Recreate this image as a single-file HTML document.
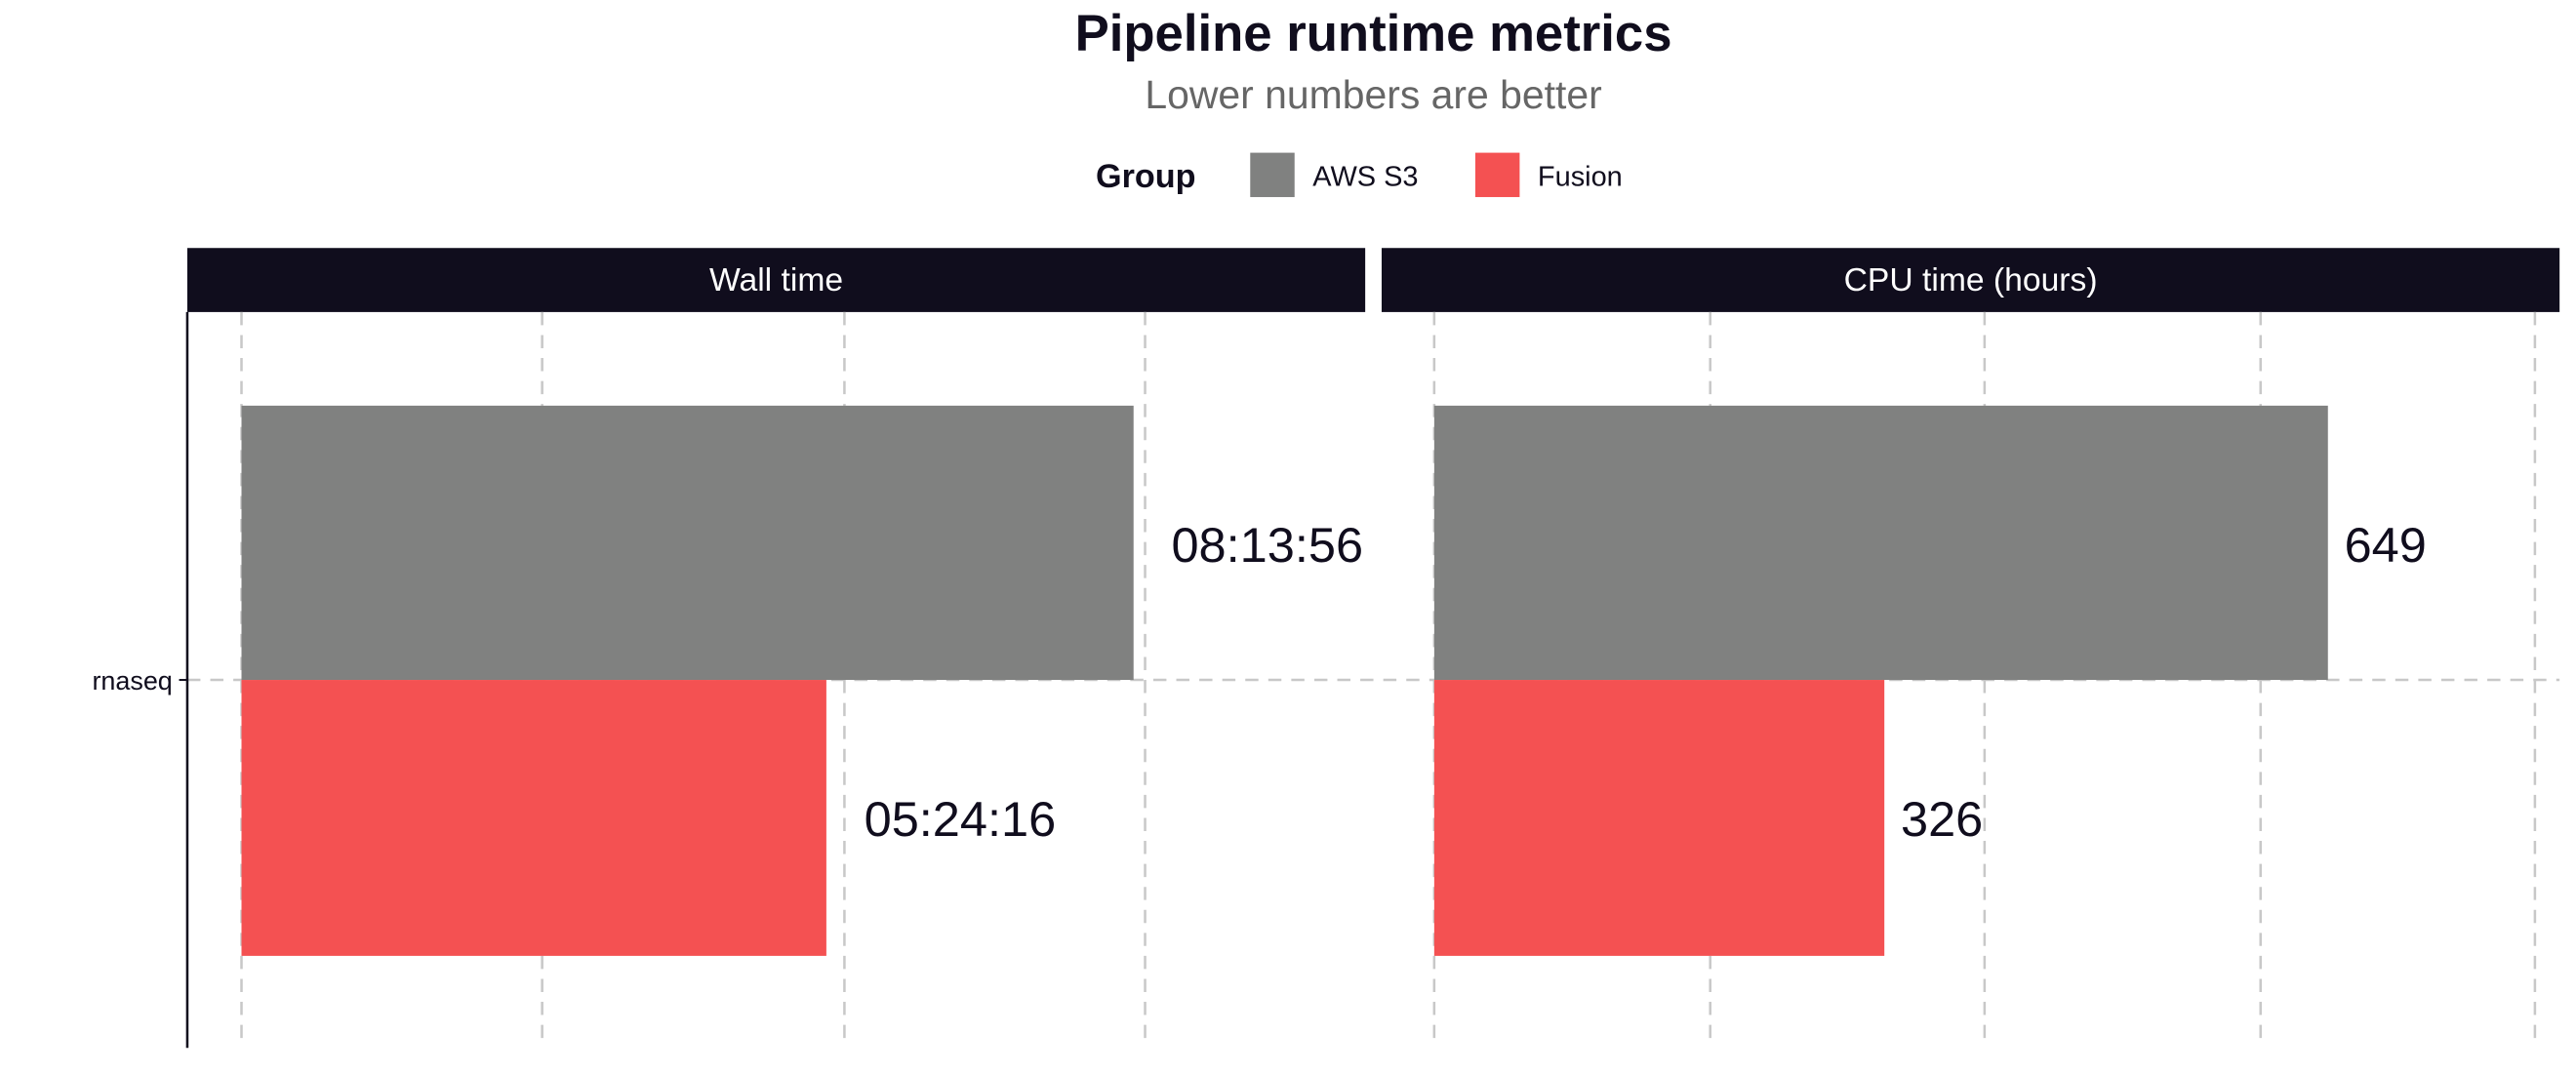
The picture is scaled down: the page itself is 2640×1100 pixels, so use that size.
<!DOCTYPE html>
<html><head><meta charset="utf-8"><style>html,body{margin:0;padding:0;background:#fff}svg{display:block}</style></head>
<body>
<svg width="2640" height="1100" viewBox="0 0 1568 653.33" preserveAspectRatio="none" xmlns="http://www.w3.org/2000/svg" font-family="Liberation Sans, sans-serif">
<rect width="1568" height="654" fill="#fff"/>
<text x="836" y="31" text-anchor="middle" font-size="31.3" font-weight="bold" fill="#100d1d">Pipeline runtime metrics</text>
<text x="836" y="66" text-anchor="middle" font-size="24.3" fill="#666">Lower numbers are better</text>
<text x="667" y="114" font-size="20.3" font-weight="bold" fill="#100d1d">Group</text>
<rect x="761" y="93" width="27" height="27" fill="#808180"/>
<text x="799" y="113" font-size="17.2" fill="#100d1d">AWS S3</text>
<rect x="898" y="93" width="27" height="27" fill="#f45152"/>
<text x="936" y="113" font-size="17.2" fill="#100d1d">Fusion</text>
<rect x="114" y="151" width="717" height="39" fill="#100d1d"/>
<rect x="841" y="151" width="717" height="39" fill="#100d1d"/>
<text x="472.5" y="177" text-anchor="middle" font-size="20" fill="#fff">Wall time</text>
<text x="1199.5" y="177" text-anchor="middle" font-size="20" fill="#fff">CPU time (hours)</text>
<g stroke="#c8c8c8" stroke-width="1.5" stroke-dasharray="8,6">
<line x1="147" y1="190" x2="147" y2="638"/><line x1="330" y1="190" x2="330" y2="638"/>
<line x1="514" y1="190" x2="514" y2="638"/><line x1="697" y1="190" x2="697" y2="638"/>
<line x1="873" y1="190" x2="873" y2="638"/><line x1="1041" y1="190" x2="1041" y2="638"/>
<line x1="1208" y1="190" x2="1208" y2="638"/><line x1="1376" y1="190" x2="1376" y2="638"/>
<line x1="1543" y1="190" x2="1543" y2="638"/>
<line x1="114" y1="414" x2="1558" y2="414"/>
</g>
<rect x="147" y="247" width="543" height="167" fill="#808180"/>
<rect x="147" y="414" width="356" height="168" fill="#f45152"/>
<rect x="873" y="247" width="544" height="167" fill="#808180"/>
<rect x="873" y="414" width="274" height="168" fill="#f45152"/>
<line x1="114" y1="190" x2="114" y2="638" stroke="#100d1d" stroke-width="1.5"/>
<line x1="109" y1="414" x2="114" y2="414" stroke="#100d1d" stroke-width="1.2"/>
<text x="105" y="420" text-anchor="end" font-size="16" fill="#100d1d">rnaseq</text>
<g font-size="30" fill="#100d1d">
<text x="713" y="342">08:13:56</text>
<text x="526" y="509">05:24:16</text>
<text x="1427" y="342">649</text>
<text x="1157" y="509">326</text>
</g>
</svg>
</body></html>
